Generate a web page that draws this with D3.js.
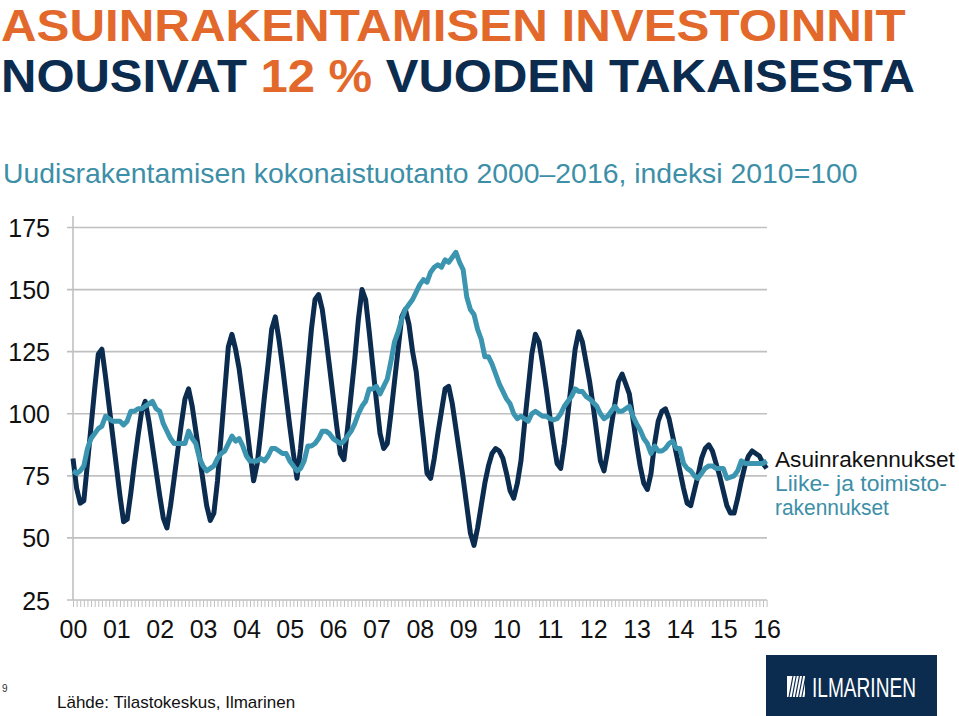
<!DOCTYPE html>
<html>
<head>
<meta charset="utf-8">
<script src="https://cdn.jsdelivr.net/npm/d3@7"></script>
<style>
  html, body { margin: 0; padding: 0; background: #fff; }
  svg { display: block; font-family: "Liberation Sans", Arial, sans-serif; }
</style>
</head>
<body>
<svg id="chart" width="959" height="716"></svg>
<script>
// ---------- DATA ----------
const yearLabels = ["00","01","02","03","04","05","06","07","08","09","10","11","12","13","14","15","16"];
const yTicks = [25, 50, 75, 100, 125, 150, 175];
const seriesNames = ["Asuinrakennukset", "Liike- ja toimisto-", "rakennukset"];

// Monthly index values, Jan 2000 .. Jan 2016 (2010 = 100)
const residential = [
  82,70,64,65,80,95,110,124,126,115,103,91,
  79,67,56.5,57.5,68,80,91,101,105,97,87,77,
  67,58,54,63,74,85,96,106,110,103,93,83,
  73,63,57,60,73,91,109,127,132,126,118,107,
  96,84,73,80,93,107,120,134,139,130,119,107,
  95,84,74,86,102,118,134,146,148,142,131,119,
  107,95,84,81.5,94,108,122,138,150,146,133,119,
  105,92,86,88,100,113,126,139,142,136,125,117,
  103,90,76,74,82,92,101,110,111,104,94,84,
  74,63,52,47,54,63,72,79,84,86,85,82,
  76,69,66,72,81,96,110,124,132,129,120,110,
  99,89,80,78,88,100,113,126,133,129,121,113,
  103,92,81,77,85,95,104,113,116,112,108,98,
  88,79,72,69.5,76,88,97,101,102,98,91,84,
  77,70,64,63,69,75,82,86,87.5,85,80,75,
  69,63,60,60,66,73,79,83,85,84,83,80,
  78
];
const commercial = [
  77,76,77,79,86,90,92,94,95,99,98,97,
  97,97,95.5,97,101,101,102,102,103,104,105,102,
  101,96,93,90,88,88,88,88,93,90,88,82,
  79,77,78,79,82,84,85,88,91,89,90,87,
  83,81,81,81,82,81,83,86,86,85,84,84,
  81,79,77,78,81,87,87,88,90,93,93,92,
  90,89,88,89,91,93,96,100,103,105,110,110,
  111,108,111,114,121,129,133,138,142,144,146,149,
  152,154,153,157,159,160,159,162,161,163,165,161,
  158,147,142,140,134,130,123,123,120,116,112,109,
  106,104,100,98,99,98,97,100,101,100,99,99,
  98,97.5,98,100,103,105,107,110,109,109,107,106,
  104.5,103,100,98,99,101,103,101,101,102,103,99,
  96,93.5,90,88,84,87,85,85,86,88,89,86,
  86,80,78,77,75,74,76,78,79,79,78,78,
  78,74,74.5,75,77,81,80,80,80,80,80,80,
  81
];

// ---------- STYLE ----------
const C = {
  orange: "#e2692b",
  navy: "#0b2b4f",
  teal: "#3b95b0",
  tealText: "#3d8fa7",
  grid: "#c0c0c0",
  text: "#111111"
};

const svg = d3.select("#chart");

// Helper: squeeze text horizontally to a target width
function fitWidth(sel, x, y, target) {
  const w = sel.node().getComputedTextLength();
  const k = target / w;
  sel.attr("x", 0).attr("y", 0)
     .attr("transform", `translate(${x},${y}) scale(${k},1)`);
}

// ---------- TITLES ----------
const t1 = svg.append("text")
  .attr("font-size", 45).attr("font-weight", "bold").attr("fill", C.orange)
  .text("ASUINRAKENTAMISEN INVESTOINNIT");
fitWidth(t1, 1, 41, 905);

const t2 = svg.append("text")
  .attr("font-size", 46).attr("font-weight", "bold").attr("fill", C.navy);
t2.append("tspan").text("NOUSIVAT ");
t2.append("tspan").attr("fill", C.orange).text("12 %");
t2.append("tspan").text(" VUODEN TAKAISESTA");
fitWidth(t2, 1, 92, 914);

const st = svg.append("text")
  .attr("font-size", 28).attr("fill", C.tealText)
  .text("Uudisrakentamisen kokonaistuotanto 2000\u20132016, indeksi 2010=100");
fitWidth(st, 3, 183, 855);

// ---------- SCALES ----------
const nMonths = residential.length - 1;
const x = d3.scaleLinear().domain([0, nMonths]).range([73, 766.6]);
const y = d3.scaleLinear().domain([25, 175]).range([600, 227.5]);

// Gridlines
svg.append("g")
  .selectAll("line")
  .data(yTicks.filter(v => v > 25))
  .join("line")
  .attr("x1", 67).attr("x2", 767)
  .attr("y1", d => y(d)).attr("y2", d => y(d))
  .attr("stroke", C.grid).attr("stroke-width", 1.6);

// Y axis
const yAxis = d3.axisLeft(y).tickValues(yTicks).tickSize(0).tickPadding(0);
const gy = svg.append("g").attr("transform", "translate(50,0)").call(yAxis);
gy.select(".domain").remove();
gy.selectAll("text").attr("font-size", 25).attr("fill", C.text)
  .attr("font-family", "Liberation Sans, Arial, sans-serif").attr("dy", "0.36em");

svg.append("line").attr("x1", 73).attr("x2", 73).attr("y1", 216).attr("y2", 600)
  .attr("stroke", C.grid).attr("stroke-width", 1.6);

// X axis: monthly minor ticks
const gx = svg.append("g").attr("transform", "translate(0,600)")
  .call(d3.axisBottom(x).tickValues(d3.range(0, nMonths + 1)).tickSize(7).tickFormat(""));
gx.select(".domain").attr("stroke", C.grid).attr("stroke-width", 1.6)
  .attr("d", "M67,0H767");
gx.selectAll(".tick line").attr("stroke", C.grid).attr("stroke-width", 1);

// Year labels
const gxl = svg.append("g").attr("transform", "translate(0,600)")
  .call(d3.axisBottom(x).tickValues(yearLabels.map((d, i) => i * 12))
    .tickSize(0).tickPadding(0).tickFormat((d, i) => yearLabels[i]));
gxl.select(".domain").remove();
gxl.selectAll("text").attr("font-size", 25).attr("fill", C.text)
  .attr("font-family", "Liberation Sans, Arial, sans-serif")
  .attr("dy", null).attr("y", 38);

// ---------- LINES ----------
const line = d3.line().x((d, i) => x(i)).y(d => y(d)).curve(d3.curveLinear);

svg.append("path").datum(residential)
  .attr("d", line).attr("fill", "none")
  .attr("stroke", C.navy).attr("stroke-width", 5)
  .attr("stroke-linejoin", "round").attr("stroke-linecap", "butt");

svg.append("path").datum(commercial)
  .attr("d", line).attr("fill", "none")
  .attr("stroke", C.teal).attr("stroke-width", 5)
  .attr("stroke-linejoin", "round").attr("stroke-linecap", "butt");

// ---------- LEGEND ----------
const l0 = svg.append("text").attr("font-size", 22).attr("fill", C.text).text(seriesNames[0]);
fitWidth(l0, 775, 467, 180);
const l1 = svg.append("text").attr("font-size", 22).attr("fill", C.tealText).text(seriesNames[1]);
fitWidth(l1, 775, 491, 172);
const l2 = svg.append("text").attr("font-size", 22).attr("fill", C.tealText).text(seriesNames[2]);
fitWidth(l2, 775, 515, 114);

// ---------- FOOTER ----------
svg.append("text").attr("x", 2).attr("y", 692).attr("font-size", 10)
  .attr("fill", "#333").text("9");
svg.append("text").attr("x", 57).attr("y", 708).attr("font-size", 17)
  .attr("fill", C.text).text("Lähde: Tilastokeskus, Ilmarinen");

// Logo
const logo = svg.append("g");
logo.append("rect").attr("x", 766).attr("y", 655).attr("width", 171).attr("height", 61)
  .attr("fill", C.navy);
logo.append("rect").attr("x", 787).attr("y", 676).attr("width", 18).attr("height", 21)
  .attr("fill", "#fff");
logo.append("g").selectAll("line").data(d3.range(0, 6)).join("line")
  .attr("x1", d => 789 + d * 3.2).attr("y1", 697)
  .attr("x2", d => 793 + d * 3.2).attr("y2", 676)
  .attr("stroke", C.navy).attr("stroke-width", 1.2);
const lt = logo.append("text").attr("font-size", 28).attr("fill", "#fff")
  .attr("font-weight", "normal").text("ILMARINEN");
fitWidth(lt, 812, 697, 104);
</script>
</body>
</html>
